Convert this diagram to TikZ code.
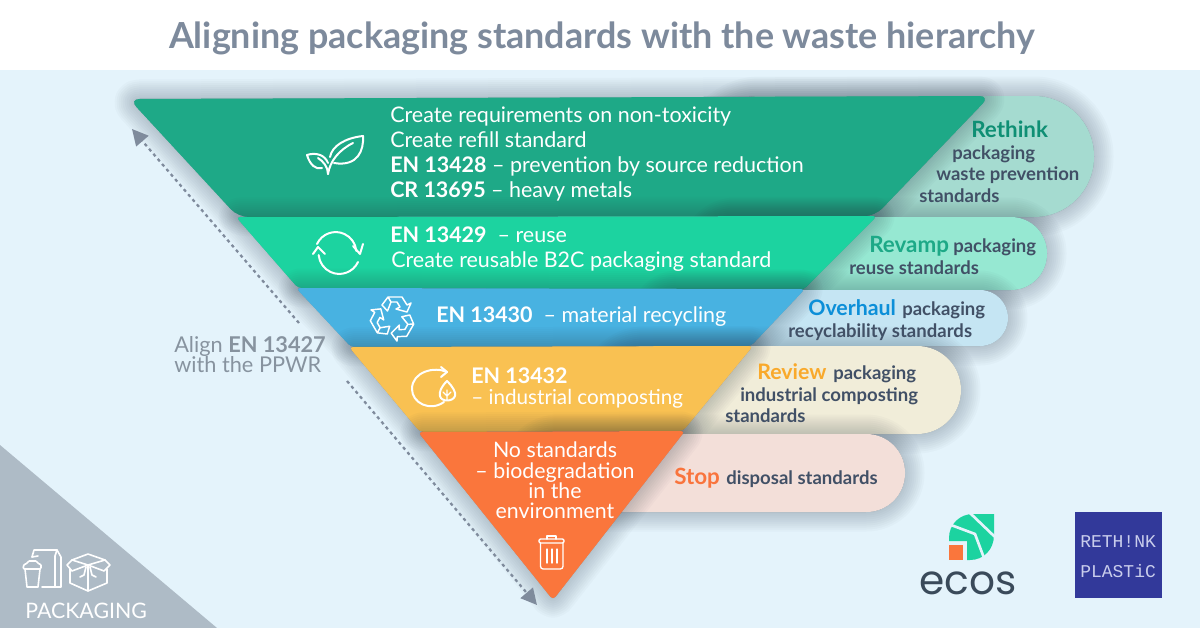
\documentclass[tikz,border=0pt]{standalone}
\usepackage{fontspec}
\setmainfont{Lato}
\newfontfamily\ecosfont{Poppins}
\newfontfamily\rpfont{Liberation Mono}
\usetikzlibrary{arrows.meta}
\definecolor{bgblue}{HTML}{E4F3FB}
\definecolor{titlegrey}{HTML}{7D8A9C}
\definecolor{aligngrey}{HTML}{87939F}
\definecolor{cornergrey}{HTML}{AEBBC6}
\definecolor{darktext}{HTML}{415066}
\definecolor{shadowc}{HTML}{1F2F40}
\definecolor{bandA}{HTML}{1EA987}
\definecolor{bandB}{HTML}{1CD3A0}
\definecolor{bandC}{HTML}{48B2E1}
\definecolor{bandD}{HTML}{F9C152}
\definecolor{bandE}{HTML}{FA763C}
\definecolor{pillA}{HTML}{A5DBD0}
\definecolor{pillB}{HTML}{96E8D2}
\definecolor{pillC}{HTML}{C5E5F3}
\definecolor{pillD}{HTML}{F1EDD9}
\definecolor{pillE}{HTML}{F3DFD9}
\definecolor{headA}{HTML}{0F8F74}
\definecolor{headB}{HTML}{1DA987}
\definecolor{headC}{HTML}{0C8FD8}
\definecolor{headD}{HTML}{F9A92B}
\definecolor{headE}{HTML}{F9743D}
\definecolor{arrowgrey}{HTML}{7F8B9C}
\definecolor{rpblue}{HTML}{32399A}
\definecolor{rptext}{HTML}{C9CDEC}
\definecolor{ecosink}{HTML}{3A4A5A}
\newcommand\softshadow[1]{%
  \foreach \w in {3,7,...,39}{\draw[shadowc,opacity=.022,line width=\w*0.75pt,line join=round,fill] #1;}}
\tikzset{
  x=0.75pt,y=-0.75pt,
  bandtext/.style={inner sep=0pt,anchor=base west,text=white,font=\fontsize{16.1}{16}\selectfont},
  bandcentre/.style={inner sep=0pt,anchor=base,text=white,font=\fontsize{16}{16}\selectfont},
  pilltext/.style={inner sep=0pt,anchor=base west,text=darktext,font=\fontsize{13.9}{14}\selectfont\bfseries},
  pillhead/.style={inner sep=0pt,anchor=base west,font=\fontsize{16.8}{17}\selectfont\bfseries},
  icon/.style={draw=white,line width=1.5pt,line cap=round,line join=round},
  dotarrow/.style={draw=arrowgrey,line width=1.7pt,dash pattern=on 2.4pt off 2.6pt,
     -{Triangle[length=12pt,width=12pt,fill=arrowgrey]}},
}
\begin{document}
\begin{tikzpicture}
\useasboundingbox (0,0) rectangle (1200,628);
\fill[white] (0,0) rectangle (1200,628);
\fill[bgblue] (0,70) rectangle (1200,628);
\fill[cornergrey] (0,445) -- (217,628) -- (0,628) -- cycle;

\node[inner sep=0pt,anchor=base,text=titlegrey,font=\fontsize{26.9}{27}\selectfont\bfseries] (title) at (602,48) {Aligning packaging standards with the waste hierarchy};

% Pill and band 1
\softshadow{[rounded corners=45pt] (700,96) rectangle (1094,217)}
\fill[pillA,rounded corners=45pt] (700,96) rectangle (1094,217);
\softshadow{[rounded corners=8pt] (129,99) -- (990,96) -- (875,216) -- (238,217) -- cycle}
\fill[bandA,rounded corners=8pt] (129,99) -- (990,96) -- (875,216) -- (238,217) -- cycle;
% Pill and band 2
\softshadow{[rounded corners=27pt] (700,217) rectangle (1047,290)}
\fill[pillB,rounded corners=27pt] (700,217) rectangle (1047,290);
\softshadow{[rounded corners=3pt] (236,217) -- (877,216) -- (803,290) -- (298,288) -- cycle}
\fill[bandB,rounded corners=3pt] (236,217) -- (877,216) -- (803,290) -- (298,288) -- cycle;
% Pill and band 3
\softshadow{[rounded corners=21pt] (650,290) rectangle (1008,346)}
\fill[pillC,rounded corners=21pt] (650,290) rectangle (1008,346);
\softshadow{[rounded corners=3pt] (296,288) -- (805,289) -- (751,346) -- (351,347) -- cycle}
\fill[bandC,rounded corners=3pt] (296,288) -- (805,289) -- (751,346) -- (351,347) -- cycle;
% Pill and band 4
\softshadow{[rounded corners=33pt] (600,346) rectangle (961,434)}
\fill[pillD,rounded corners=33pt] (600,346) rectangle (961,434);
\softshadow{[rounded corners=3pt] (349,347) -- (753,346) -- (683,431) -- (420,432) -- cycle}
\fill[bandD,rounded corners=3pt] (349,347) -- (753,346) -- (683,431) -- (420,432) -- cycle;
% Pill and band 5
\softshadow{[rounded corners=29pt] (520,434) rectangle (905,512)}
\fill[pillE,rounded corners=29pt] (520,434) rectangle (905,512);
\softshadow{[rounded corners=3pt] (418,432) -- (685,431) -- (553,600) -- cycle}
\fill[bandE,rounded corners=3pt] (418,432) -- (685,431) -- (553,600) -- cycle;

% Band texts
\node[bandtext] (a1) at (390,122) {Create requirements on non-toxicity};
\node[bandtext] (a2) at (390,147) {Create refill standard};
\node[bandtext] (a3) at (390,172) {\textbf{EN 13428} – prevention by source reduction};
\node[bandtext] (a4) at (390,197) {\textbf{CR 13695} – heavy metals};
\node[bandtext] (b1) at (390,242) {\textbf{EN 13429}\ \ – reuse};
\node[bandtext] (b2) at (391,267) {Create reusable B2C packaging standard};
\node[bandtext] (c1) at (436,322) {\textbf{EN 13430}\ \ – material recycling};
\node[bandtext] (d1) at (471,383) {\textbf{EN 13432}};
\node[bandtext,font=\fontsize{15.5}{16}\selectfont] (d2) at (471,404) {– industrial composting};
\node[bandcentre] (e1) at (555,457) {No standards};
\node[bandcentre] (e2) at (555,478) {– biodegradation};
\node[bandcentre] (e3) at (555,498) {in the};
\node[bandcentre] (e4) at (555,518) {environment};

% Pill texts
\node[pillhead,text=headA] (ra) at (971,137) {Rethink};
\node[pilltext] (ra1) at (952,159) {packaging};
\node[pilltext] (ra2) at (936,180) {waste prevention};
\node[pilltext] (ra3) at (919,202) {standards};
\node[pillhead,text=headB] (rb) at (869,252) {Revamp};
\node[pilltext] (rb1) at (953,252) {packaging};
\node[pilltext] (rb2) at (849,274) {reuse standards};
\node[pillhead,text=headC,font=\fontsize{16}{16}\selectfont\bfseries] (rc) at (808,315) {Overhaul};
\node[pilltext] (rc1) at (902,315) {packaging};
\node[pilltext] (rc2) at (788,337) {recyclability standards};
\node[pillhead,text=headD,font=\fontsize{16}{16}\selectfont\bfseries] (rd) at (757,379) {Review};
\node[pilltext] (rd1) at (833,379) {packaging};
\node[pilltext] (rd2) at (740,401) {industrial composting};
\node[pilltext] (rd3) at (725,422) {standards};
\node[pillhead,text=headE] (re) at (674,484) {Stop};
\node[pilltext] (re1) at (726,484) {disposal standards};

% Left label and arrows
\node[inner sep=0pt,anchor=base west,text=aligngrey,font=\fontsize{16.3}{16}\selectfont] (al1) at (174,352) {Align \textbf{EN 13427}};
\node[inner sep=0pt,anchor=base west,text=aligngrey,font=\fontsize{16.3}{16}\selectfont] (al2) at (174,372) {with the PPWR};
\coordinate (upstart) at (299,323);
\coordinate (uptip) at (132,129);
\coordinate (downstart) at (347,381);
\coordinate (downtip) at (537,605);
\draw[dotarrow] (upstart) -- (uptip);
\draw[dotarrow] (downstart) -- (downtip);

% Leaf icon
\draw[icon] (330,157) .. controls (332,146) and (345,138) .. (363,136) .. controls (364,150) and (358,167) .. (334,163);
\draw[icon] (328,174) .. controls (330,161) and (339,150) .. (353,143);
\draw[icon] (307,155) .. controls (316,152) and (325,155) .. (328,163);
\draw[icon] (307,155) .. controls (310,165) and (316,170) .. (322,168);
\draw[icon] (328,174) .. controls (328,167) and (323,161) .. (318,158);

% Reuse icon
\draw[icon] (317,244) arc[start angle=155,end angle=5,radius=15.5pt];
\draw[icon] (353,246) -- (360,254) -- (363,244);
\draw[icon] (358,262) arc[start angle=-25,end angle=-175,radius=15.5pt];
\draw[icon] (313,254) -- (318,247) -- (325,254);

% Recycling icon
\foreach \a in {0,120,240}{
  \draw[icon,shift={(393,318)},rotate=\a,line width=1.1pt]
    (-11,-13) -- (-5,-21) -- (9,-21) -- (14,-13) -- (18,-15) -- (14,-6) -- (3,-9) -- (7,-11) -- (4,-16) -- (-2,-16) -- (-5.5,-7) -- cycle (-5,-21) -- (-2,-16);
}

% Compost icon
\draw[icon] (447,372) .. controls (434,366) and (412,372) .. (412,389) .. controls (412,403) and (430,412) .. (444,402);
\draw[icon] (441,367) -- (447,372) -- (441,377);
\draw[icon] (447,381) .. controls (441,387) and (439,392) .. (440,396) .. controls (441,402) and (453,402) .. (455,396) .. controls (456,392) and (453,387) .. (447,381) -- cycle;
\draw[icon,line width=1pt] (447,390) -- (447,400) (443,392) -- (447,396) -- (451,392);

% Trash icon
\draw[icon,line width=1pt,rounded corners=1pt] (539,539) rectangle (564,543);
\draw[icon,line width=1pt] (547,539) -- (547,536) -- (556,536) -- (556,539);
\draw[icon,line width=1pt,rounded corners=2pt] (540.5,543) -- (540.5,569) -- (563,569) -- (563,543);
\draw[icon,line width=1pt] (547,549) -- (547,563) (552,549) -- (552,563) (557,549) -- (557,563);

% Packaging icon
\draw[icon,line width=1.2pt,rounded corners=1pt] (23,569) -- (24,564) -- (27,564) -- (28,561) -- (37,561) -- (38,564) -- (41,564) -- (41,569) -- cycle;
\draw[icon,line width=1.2pt] (25,569) -- (27,587) -- (38,587) -- (40,569);
\draw[icon,line width=1.2pt] (32,557) -- (34,550) -- (57,550) -- (61,557) -- (61,587) -- (42,587);
\draw[icon,line width=1.2pt] (32,557) -- (38,556) (55,556) -- (55,587) (57,550) -- (55,556);
\draw[icon,line width=1.2pt] (88,554) -- (105,560) -- (110,565) -- (104,571) -- (88,565) -- (72,571) -- (67,565) -- (72,560) -- cycle;
\draw[icon,line width=1.2pt] (72,560) -- (88,565) -- (105,560);
\draw[icon,line width=1.2pt] (70,569) -- (70,583) -- (88,591) -- (107,583) -- (107,569);
\draw[icon,line width=1.2pt] (88,565) -- (88,591) (80,577) -- (84,575) -- (86,567) (96,577) -- (92,575) -- (90,567);
\node[inner sep=0pt,anchor=base west,text=white,font=\fontsize{16}{16}\selectfont] (pk) at (25,618) {PACKAGING};

% ecos logo
\fill[bandB] (949,541) -- (949,538) .. controls (949,524) and (960,514) .. (973,514) -- (994,514) -- (994,535) .. controls (994,549) and (984,560) .. (970,560) -- (967,560) -- (967,541) -- cycle;
\draw[bgblue,line width=2pt] (951,525) -- (975,534) -- (984,558);
\draw[bgblue,line width=2pt] (970,513) -- (995,537);
\fill[bandE] (949,545) rectangle (963,560);
\node[inner sep=0pt,anchor=base,text=ecosink,font=\ecosfont\fontsize{30.5}{30}\selectfont] (ecos) at (968,594) {ecos};

% Rethink Plastic logo
\fill[rpblue] (1075,512) rectangle (1162,598);
\node[inner sep=0pt,anchor=base west,text=rptext,font=\rpfont\fontsize{13.5}{13.5}\selectfont] (rp1) at (1080,547) {RETH!NK};
\node[inner sep=0pt,anchor=base west,text=rptext,font=\rpfont\fontsize{13.5}{13.5}\selectfont] (rp2) at (1080,577) {PLASTiC};
\end{tikzpicture}
\end{document}
